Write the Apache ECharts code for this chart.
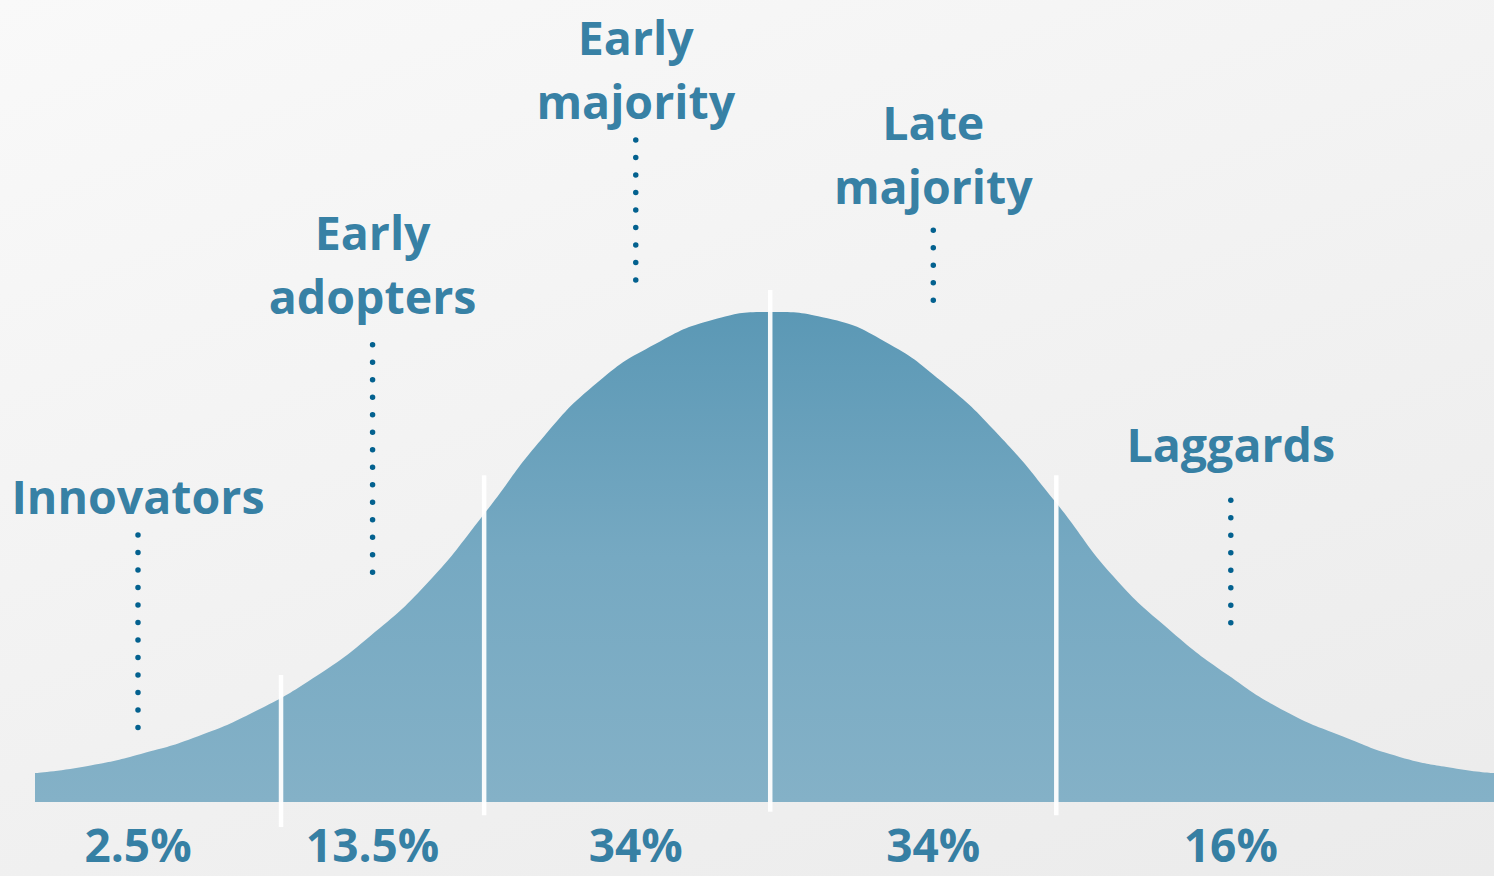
<!DOCTYPE html>
<html>
<head>
<meta charset="utf-8">
<title>Diffusion of innovations</title>
<script src="https://cdn.jsdelivr.net/npm/echarts@6/dist/echarts.min.js"></script>
<style>
html,body{margin:0;padding:0;}
#main{
    width:1494px;
    height:876px;
    background:linear-gradient(160deg,#f9f9f9 0%,#f1f1f1 55%,#ebebeb 100%);
}
</style>
</head>
<body>
<div id="main"></div>
<script>
// adopter groups
var groups = ['Innovators', 'Early\nadopters', 'Early\nmajority', 'Late\nmajority', 'Laggards'];
var shares = ['2.5%', '13.5%', '34%', '34%', '16%'];

// bell curve: x in standard deviations, y in % of the peak height
var curveX = [-2.57, -2.4, -2.2, -2.0, -1.8, -1.6, -1.4, -1.2, -1.0, -0.8, -0.6, -0.4, -0.2, 0,
              0.2, 0.4, 0.6, 0.8, 1.0, 1.2, 1.4, 1.6, 1.8, 2.0, 2.2, 2.4, 2.53];
var curveY = [5.9, 7.2, 9.8, 13.4, 18.5, 25.2, 33.8, 44.6, 58.8, 74.0, 85.8, 93.5, 98.4, 100,
              98.7, 94.0, 85.8, 74.8, 61.0, 46.0, 34.9, 25.9, 18.5, 13.4, 9.2, 6.8, 5.9];

// white dividers between the groups
var dividerX = [-1.71, -1.0, 0, 1.0];
var dividerTop = [25.9, 66.7, 104.5, 66.7];
var dividerBottom = [-5.1, -2.7, -2.0, -2.7];

// dotted leaders and label anchors for each group
var groupX = [-2.21, -1.39, -0.47, 0.57, 1.61];
var leaderTop = [54.5, 93.3, 135.1, 116.7, 61.6];
var leaderBottom = [15.1, 44.9, 104.9, 100.8, 33.7];
var labelY = [62.4, 109.8, 149.6, 132.2, 73.0];
var shareY = -8.6;

var textColor = '#03618f';
var font = 'Open Sans';

var chart = echarts.init(document.getElementById('main'), null, {renderer: 'svg'});

var series = [];

// the curve itself
series.push({
    type: 'line',
    data: curveX.map(function (x, i) { return [x, curveY[i]]; }),
    smooth: 0.5,
    symbol: 'none',
    lineStyle: {width: 0},
    areaStyle: {
        origin: 'auto',
        opacity: 1,
        color: new echarts.graphic.LinearGradient(0, 0, 0, 1, [
            {offset: 0, color: '#5b98b5'},
            {offset: 0.5, color: '#76a9c2'},
            {offset: 1, color: '#84b1c7'}
        ])
    },
    z: 1
});

// dividers
dividerX.forEach(function (x, i) {
    series.push({
        type: 'line',
        data: [[x, dividerTop[i]], [x, dividerBottom[i]]],
        symbol: 'none',
        clip: false,
        lineStyle: {color: '#ffffff', width: 4.5, opacity: 0.95},
        z: 3
    });
});

// dotted leaders
groupX.forEach(function (x, i) {
    series.push({
        type: 'line',
        data: [[x, leaderTop[i]], [x, leaderBottom[i]]],
        symbol: 'none',
        clip: false,
        lineStyle: {color: textColor, width: 5.5, type: [0, 17.5], cap: 'round'},
        z: 3
    });
});

// group names
series.push({
    type: 'scatter',
    symbolSize: 0,
    clip: false,
    data: groups.map(function (g, i) { return {name: g, value: [groupX[i], labelY[i]]}; }),
    label: {
        show: true,
        position: 'inside',
        formatter: '{b}',
        color: textColor,
        fontFamily: font,
        fontWeight: 'bold',
        fontSize: 46.5,
        lineHeight: 64,
        align: 'center'
    },
    z: 4
});

// shares under the curve
series.push({
    type: 'scatter',
    symbolSize: 0,
    clip: false,
    data: shares.map(function (s, i) { return {name: s, value: [groupX[i], shareY]}; }),
    label: {
        show: true,
        position: 'inside',
        formatter: '{b}',
        color: textColor,
        fontFamily: font,
        fontWeight: 'bold',
        fontSize: 46,
        lineHeight: 44,
        align: 'center'
    },
    z: 4
});

chart.setOption({
    animation: false,
    backgroundColor: 'transparent',
    grid: {left: 35, right: 0, top: 18, bottom: 0.5},
    xAxis: {type: 'value', min: -2.57, max: 2.53, show: false},
    yAxis: {type: 'value', min: -15, max: 160, show: false},
    series: series
});
</script>
</body>
</html>
